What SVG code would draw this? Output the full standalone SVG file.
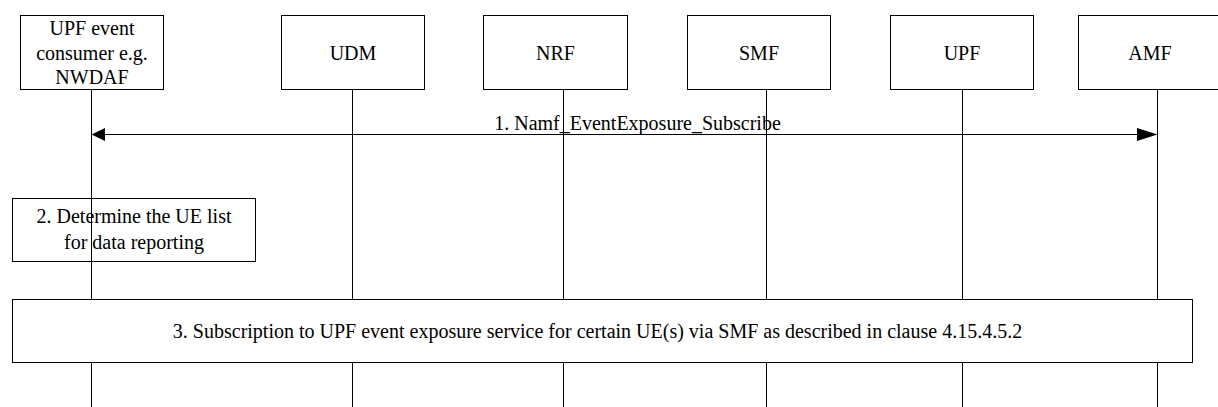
<svg xmlns="http://www.w3.org/2000/svg" width="1218" height="407" viewBox="0 0 1218 407">
<style>
.box{fill:#fff;stroke:#000;stroke-width:1}
.life{stroke:#000;stroke-width:1}
.t{font-family:"Liberation Serif","Times New Roman",serif;font-size:20px;fill:#000;text-anchor:middle}
.head{fill:#000}
</style>
<rect width="1218" height="407" fill="#fff"/>
<g id="lifelines">
<line class="life" x1="91.5" y1="89" x2="91.5" y2="407"/>
<line class="life" x1="352.5" y1="89" x2="352.5" y2="407"/>
<line class="life" x1="563.5" y1="89" x2="563.5" y2="407"/>
<line class="life" x1="766.5" y1="89" x2="766.5" y2="407"/>
<line class="life" x1="962.5" y1="89" x2="962.5" y2="407"/>
<line class="life" x1="1157.5" y1="89" x2="1157.5" y2="407"/>
</g>
<g id="node-consumer">
<rect class="box" x="20.5" y="15.5" width="143" height="74"/>
<text class="t" x="92" y="35">UPF event</text>
<text class="t" x="92" y="59.5">consumer e.g.</text>
<text class="t" x="92" y="84">NWDAF</text>
</g>
<g id="node-udm">
<rect class="box" x="281.5" y="15.5" width="143" height="74"/>
<text class="t" x="353" y="59.5">UDM</text>
</g>
<g id="node-nrf">
<rect class="box" x="483.5" y="15.5" width="144" height="74"/>
<text class="t" x="555.5" y="59.5">NRF</text>
</g>
<g id="node-smf">
<rect class="box" x="687.5" y="15.5" width="143" height="74"/>
<text class="t" x="759" y="59.5">SMF</text>
</g>
<g id="node-upf">
<rect class="box" x="890.5" y="15.5" width="143" height="74"/>
<text class="t" x="962" y="59.5">UPF</text>
</g>
<g id="node-amf">
<rect class="box" x="1078.5" y="15.5" width="143" height="74"/>
<text class="t" x="1150" y="59.5">AMF</text>
</g>
<g id="connectors">
<line class="life" x1="100" y1="134.5" x2="1145" y2="134.5"/>
<polygon class="head" points="91.5,134.5 105,128 105,141"/>
<polygon class="head" points="1157.5,134.5 1137,128 1137,141"/>
<text class="t" x="637.5" y="130">1. Namf_EventExposure_Subscribe</text>
</g>
<g id="step2">
<rect x="12.5" y="198.5" width="243" height="63" fill="none" stroke="#000" stroke-width="1"/>
<text class="t" x="134" y="223">2. Determine the UE list</text>
<text class="t" x="134" y="248.5">for data reporting</text>
</g>
<g id="step3">
<rect class="box" x="12.5" y="299.5" width="1180" height="63"/>
<text class="t" x="597.5" y="338">3. Subscription to UPF event exposure service for certain UE(s) via SMF as described in clause 4.15.4.5.2</text>
</g>
</svg>
